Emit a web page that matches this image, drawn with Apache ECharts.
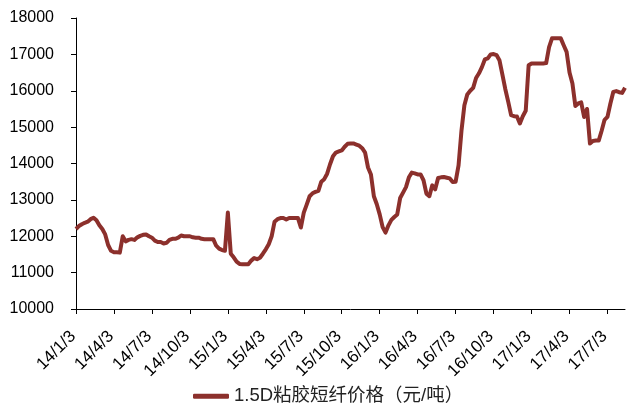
<!DOCTYPE html>
<html>
<head>
<meta charset="utf-8">
<script src="https://cdn.jsdelivr.net/npm/echarts@6/dist/echarts.min.js"></script>
<style>
    html, body { margin: 0; padding: 0; background: #fff; }
    #chart { width: 627px; height: 403px; }
</style>
</head>
<body>
<div id="chart"></div>
<script>
// weekly price, first point 2014-01-03
const seriesName = '1.5D粘胶短纤价格（元/吨）';
const priceValues = [
    12200, 12280, 12330, 12370, 12400, 12470, 12510, 12440, 12300, 12200,
    12050, 11760, 11600, 11560, 11560, 11550, 12000, 11860, 11900, 11920,
    11900, 11970, 12010, 12040, 12050, 12000, 11960, 11880, 11840, 11840,
    11800, 11820, 11900, 11930, 11930, 11960, 12020, 12000, 12000, 12000,
    11970, 11960, 11960, 11930, 11920, 11920, 11920, 11920, 11740, 11660,
    11620, 11600, 12650, 11520, 11420, 11300, 11240, 11230, 11230, 11230,
    11330, 11400, 11370, 11410, 11520, 11640, 11780, 12000, 12400, 12470,
    12500, 12500, 12460, 12500, 12500, 12500, 12500, 12240, 12650, 12870,
    13100, 13180, 13220, 13250, 13500, 13570, 13720, 13980, 14200, 14300,
    14330, 14360, 14460, 14540, 14550, 14550, 14520, 14490, 14420, 14300,
    13890, 13700, 13100, 12880, 12600, 12250, 12100, 12300, 12450, 12530,
    12600, 13050, 13200, 13350, 13620, 13750, 13730, 13700, 13700, 13540,
    13170, 13100, 13400, 13290, 13600, 13620, 13630, 13610, 13590, 13490,
    13500, 13950, 14900, 15600, 15900, 16000, 16080, 16350, 16480, 16650,
    16860, 16890, 17000, 17010, 16980, 16840, 16450, 16050, 15700, 15330,
    15300, 15290, 15100, 15300, 15450, 16700, 16750, 16750, 16750, 16750,
    16750, 16760, 17200, 17440, 17440, 17440, 17440, 17250, 17070, 16500,
    16200, 15580, 15650, 15680, 15280, 15500, 14550, 14620, 14630, 14630,
    14900, 15200, 15280, 15650, 15970, 15990, 15960, 15940, 16080
];
const tickLabels = [
    '14/1/3', '14/4/3', '14/7/3', '14/10/3', '15/1/3', '15/4/3', '15/7/3',
    '15/10/3', '16/1/3', '16/4/3', '16/7/3', '16/10/3', '17/1/3', '17/4/3', '17/7/3'
];
const weeksPerTick = 13;

const categories = [];
const start = new Date(2014, 0, 3);
for (let i = 0; i < priceValues.length; i++) {
    const d = new Date(start.getTime() + i * 7 * 86400000);
    categories.push(d.getFullYear() + '-' + (d.getMonth() + 1) + '-' + d.getDate());
}

const chart = echarts.init(document.getElementById('chart'));
const font = '"Liberation Sans", "Noto Sans CJK SC", sans-serif';
chart.setOption({
    animation: false,
    grid: {left: 76, right: 2, top: 18, bottom: 94, containLabel: false, outerBoundsMode: 'none'},
    legend: {
        data: [seriesName],
        left: 188,
        top: 382,
        icon: 'roundRect',
        itemWidth: 36,
        itemHeight: 5,
        textStyle: {fontFamily: font, fontSize: 18.5, color: '#222'},
    },
    xAxis: {
        type: 'category',
        data: categories,
        boundaryGap: false,
        axisLine: {show: true, lineStyle: {color: '#000', width: 1}},
        axisTick: {show: true, interval: weeksPerTick - 1, length: 5, lineStyle: {color: '#000'}},
        axisLabel: {
            interval: weeksPerTick - 1,
            rotate: 45,
            margin: 22,
            padding: [0, 4, 0, 0],
            fontFamily: font,
            fontSize: 17,
            color: '#000',
            formatter: (v, i) => tickLabels[i / weeksPerTick] || '',
        },
        splitLine: {show: false},
    },
    yAxis: {
        type: 'value',
        min: 10000,
        max: 18000,
        interval: 1000,
        axisLine: {show: true, lineStyle: {color: '#000', width: 1}},
        axisTick: {show: true, length: 5, lineStyle: {color: '#000'}},
        axisLabel: {
            margin: 22,
            fontFamily: font,
            fontSize: 16,
            color: '#000',
            formatter: (v) => String(v),
        },
        splitLine: {show: false},
    },
    series: [
        {
            name: seriesName,
            type: 'line',
            data: priceValues,
            showSymbol: false,
            symbol: 'none',
            color: '#8c302c',
            lineStyle: {width: 4, color: '#8c302c', join: 'round'},
            emphasis: {disabled: true},
        },
    ],
});
</script>
</body>
</html>
